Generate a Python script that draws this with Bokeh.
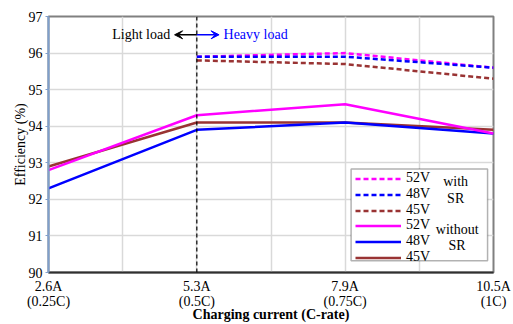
from bokeh.plotting import figure
from bokeh.models import (Legend, LegendItem, Span, Arrow, VeeHead, Label,
                          BoxAnnotation, FixedTicker, Range1d)
from bokeh.embed import file_html
from bokeh.resources import INLINE

# ---- data ----
x_labels = ["2.6A\n(0.25C)", "5.3A\n(0.5C)", "7.9A\n(0.75C)", "10.5A\n(1C)"]
x_pos = [0, 1, 2, 3]
x_minor = [0.5, 1.5, 2.5]
y_ticks = [90, 91, 92, 93, 94, 95, 96, 97]

wo_52 = [92.8, 94.3, 94.6, 93.8]
wo_48 = [92.3, 93.9, 94.1, 93.8]
wo_45 = [92.9, 94.1, 94.1, 93.9]

sr_x = [1, 2, 3]
sr_52 = [95.9, 96.0, 95.6]
sr_48 = [95.9, 95.9, 95.6]
sr_45 = [95.8, 95.7, 95.3]

boundary_x = 1  # 5.3A light/heavy load boundary

MAG = "#ff00ff"
BLU = "#0000ff"
BRN = "#993333"
FONT = "Liberation Serif"

p = figure(width=513, height=324, output_backend="svg", toolbar_location=None,
           x_range=Range1d(0, 3), y_range=Range1d(90, 97),
           min_border_left=48, min_border_right=20, min_border_top=16, min_border_bottom=48)

# axes
p.xaxis.ticker = FixedTicker(ticks=x_pos, minor_ticks=x_minor)
p.xaxis.major_label_overrides = {i: l for i, l in zip(x_pos, x_labels)}
p.yaxis.ticker = FixedTicker(ticks=y_ticks)
for ax in (p.xaxis[0], p.yaxis[0]):
    ax.major_label_text_font = FONT
    ax.major_label_text_font_size = "14px"
    ax.major_label_text_color = "black"
    ax.axis_label_text_font = FONT
    ax.axis_label_text_font_size = "14px"
    ax.axis_label_text_color = "black"
    ax.minor_tick_line_color = None
    ax.axis_line_width = 2
p.xaxis.major_tick_line_color = None
p.xaxis.axis_label = "Charging current (C-rate)"
p.xaxis.axis_label_text_font_style = "bold"
p.xaxis.axis_label_standoff = -5
p.xaxis.major_label_standoff = 0
p.xaxis.major_label_text_line_height = 1.0
p.xaxis.axis_line_color = "#303030"
p.yaxis.axis_label = "Efficiency (%)"
p.yaxis.axis_label_text_font_style = "normal"
p.yaxis.axis_label_standoff = -2
p.yaxis.major_label_standoff = 3
p.yaxis.axis_line_color = "#7f9fcc"
p.yaxis.major_tick_line_color = "#7f9fcc"
p.yaxis.major_tick_in = 0
p.yaxis.major_tick_out = 3

p.outline_line_color = "#808080"
p.outline_line_width = 2

p.xgrid.grid_line_color = "#d9d9d9"
p.xgrid.grid_line_width = 1.5
p.xgrid.minor_grid_line_color = "#d9d9d9"
p.xgrid.minor_grid_line_width = 1.5
p.ygrid.grid_line_color = "#d9d9d9"
p.ygrid.grid_line_width = 1.5

# boundary line
p.add_layout(Span(location=boundary_x, dimension="height", line_color="black",
                  line_dash="4 3", line_width=1.2))

# series
r_s52 = p.line(sr_x, sr_52, line_color=MAG, line_width=2.5, line_dash="5 3")
r_s48 = p.line(sr_x, sr_48, line_color=BLU, line_width=2.5, line_dash="5 3")
r_s45 = p.line(sr_x, sr_45, line_color=BRN, line_width=2.5, line_dash="5 3")
r_w45 = p.line(x_pos, wo_45, line_color=BRN, line_width=2.5)
r_w48 = p.line(x_pos, wo_48, line_color=BLU, line_width=2.5)
r_w52 = p.line(x_pos, wo_52, line_color=MAG, line_width=2.5)

# load annotations
p.add_layout(Arrow(end=VeeHead(size=8, fill_color="black", line_color="black"),
                   x_start=1, y_start=96.5, x_end=0.85, y_end=96.5,
                   line_color="black", line_width=1.5))
p.add_layout(Arrow(end=VeeHead(size=8, fill_color=BLU, line_color=BLU),
                   x_start=1, y_start=96.5, x_end=1.15, y_end=96.5,
                   line_color=BLU, line_width=1.5))
p.add_layout(Label(x=0.82, y=96.5, text="Light load", text_align="right",
                   text_baseline="middle", text_font=FONT, text_font_size="14px",
                   text_color="black"))
p.add_layout(Label(x=1.18, y=96.5, text="Heavy load", text_align="left",
                   text_baseline="middle", text_font=FONT, text_font_size="14px",
                   text_color=BLU))

# legend frame
p.add_layout(BoxAnnotation(left=2.04, right=2.96, bottom=90.32, top=92.83,
                           fill_color="white", fill_alpha=1.0,
                           line_color="black", line_width=1.5))

def mk_legend(items, loc):
    lg = Legend(items=items, location=loc, orientation="vertical",
                label_text_font=FONT, label_text_font_size="14px",
                label_text_color="black", label_text_line_height=0.85,
                label_height=13, glyph_height=13, glyph_width=46,
                label_standoff=5, spacing=0, padding=0, margin=0,
                border_line_color=None, background_fill_alpha=0)
    return lg

p.add_layout(mk_legend([LegendItem(label="52V", renderers=[r_s52]),
                        LegendItem(label="48V", renderers=[r_s48]),
                        LegendItem(label="45V", renderers=[r_s45])], (307, 54)))
p.add_layout(mk_legend([LegendItem(label="52V", renderers=[r_w52]),
                        LegendItem(label="48V", renderers=[r_w48]),
                        LegendItem(label="45V", renderers=[r_w45])], (307, 7)))

p.add_layout(Label(x=2.745, y=92.25, text="with\nSR", text_align="center",
                   text_baseline="middle", text_font=FONT, text_font_size="14px",
                   text_line_height=1.1, text_color="black"))
p.add_layout(Label(x=2.755, y=90.96, text="without\nSR", text_align="center",
                   text_baseline="middle", text_font=FONT, text_font_size="14px",
                   text_line_height=1.1, text_color="black"))

open("out.html", "w").write(file_html(p, INLINE))
